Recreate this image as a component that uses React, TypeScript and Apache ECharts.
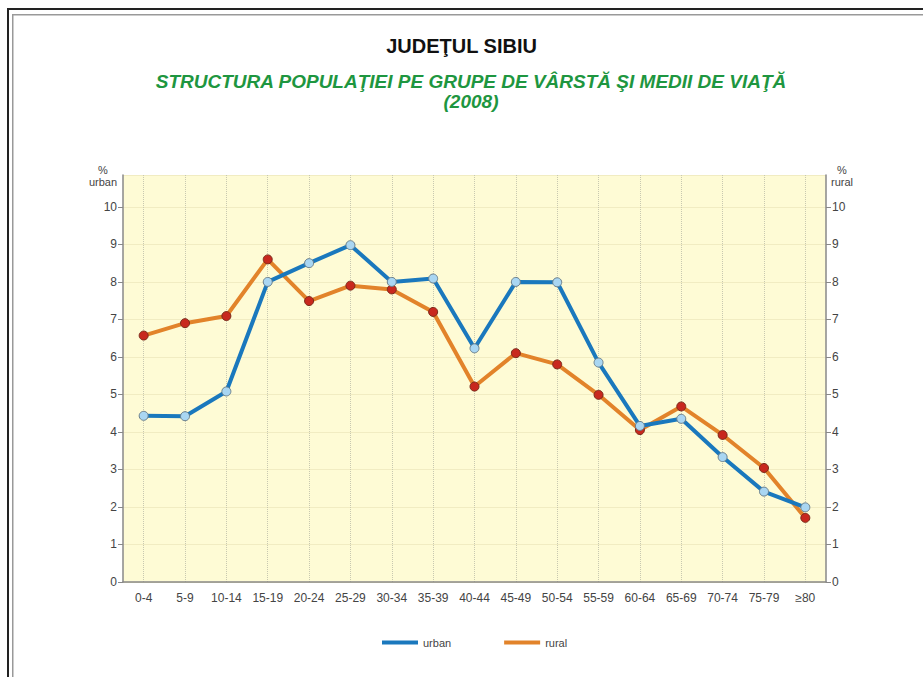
import React, { useEffect, useRef } from "react";
import * as echarts from "echarts";

const categories = ["0-4", "5-9", "10-14", "15-19", "20-24", "25-29", "30-34", "35-39", "40-44", "45-49", "50-54", "55-59", "60-64", "65-69", "70-74", "75-79", "≥80"];
const urban = [4.43, 4.42, 5.08, 8.0, 8.5, 8.98, 8.0, 8.09, 6.23, 8.0, 7.99, 5.85, 4.16, 4.35, 3.33, 2.41, 1.99];
const rural = [6.57, 6.9, 7.09, 8.6, 7.49, 7.9, 7.8, 7.2, 5.21, 6.1, 5.8, 4.99, 4.05, 4.68, 3.92, 3.04, 1.71];
const titleText = "JUDEŢUL SIBIU";
const subtitleText = "STRUCTURA POPULAŢIEI PE GRUPE DE VÂRSTĂ ŞI MEDII DE VIAŢĂ";
const yearText = "(2008)";

export default function App() {
  const ref = useRef<HTMLDivElement>(null);
  useEffect(() => {
    document.body.style.margin = "0";
    const chart = echarts.init(ref.current!, null, { renderer: "svg" });
    const font = "'Liberation Sans', Arial, sans-serif";
    const axisLabelStyle = { color: "#444", fontSize: 12, fontFamily: font };
    const green = "#1e9640";
    chart.setOption({
      animation: false,
      backgroundColor: "#ffffff",
      graphic: [
        { type: "rect", shape: { x: 7, y: 8, width: 930, height: 2 }, style: { fill: "#222" } },
        { type: "rect", shape: { x: 7, y: 8, width: 2, height: 700 }, style: { fill: "#222" } },
        { type: "rect", shape: { x: 12, y: 14, width: 930, height: 1.5 }, style: { fill: "#999" } },
        { type: "rect", shape: { x: 12, y: 14, width: 1.5, height: 700 }, style: { fill: "#999" } },
        { type: "text", x: 461.5, y: 46, style: { text: titleText, fill: "#111", font: `bold 20px ${font}`, align: "center", verticalAlign: "middle" } },
        { type: "text", x: 471, y: 81, style: { text: subtitleText, fill: green, font: `italic bold 19px ${font}`, align: "center", verticalAlign: "middle" } },
        { type: "text", x: 471, y: 101, style: { text: yearText, fill: green, font: `italic bold 19px ${font}`, align: "center", verticalAlign: "middle" } },
        { type: "text", x: 103, y: 164, style: { text: "%\nurban", fill: "#444", font: `11px ${font}`, align: "center", lineHeight: 12 } },
        { type: "text", x: 842, y: 164, style: { text: "%\nrural", fill: "#444", font: `11px ${font}`, align: "center", lineHeight: 12 } },
      ],
      legend: {
        bottom: 24,
        left: 377,
        itemGap: 53,
        itemWidth: 36,
        itemHeight: 4,
        icon: "rect",
        textStyle: { color: "#444", fontSize: 11, fontFamily: font },
        data: [
          { name: "urban", itemStyle: { color: "#1a78bd", borderWidth: 0 } },
          { name: "rural", itemStyle: { color: "#e2832a", borderWidth: 0 } },
        ],
      },
      grid: { left: 123, right: 97, top: 175, bottom: 95, show: true, backgroundColor: "#fefbd5", borderWidth: 0 },
      xAxis: {
        type: "category",
        data: categories,
        boundaryGap: true,
        axisLine: { lineStyle: { color: "#888", width: 1.5 } },
        axisTick: { alignWithLabel: true, length: 5, lineStyle: { color: "#888" } },
        axisLabel: { ...axisLabelStyle, margin: 10 },
        splitLine: { show: true, alignWithLabel: true, lineStyle: { color: "#c8c8b0", type: "dotted", width: 1 } },
      },
      yAxis: [
        {
          type: "value", min: 0, max: 10.85, interval: 1, position: "left",
          axisLine: { show: true, lineStyle: { color: "#888", width: 1.5 } },
          axisTick: { show: true, length: 5, lineStyle: { color: "#888" } },
          axisLabel: { ...axisLabelStyle, showMaxLabel: false, margin: 6 },
          splitLine: { show: true, lineStyle: { color: "#f1ecc2", width: 1 } },
        },
        {
          type: "value", min: 0, max: 10.85, interval: 1, position: "right",
          axisLine: { show: true, lineStyle: { color: "#888", width: 1.5 } },
          axisTick: { show: true, length: 5, lineStyle: { color: "#888" } },
          axisLabel: { ...axisLabelStyle, showMaxLabel: false, margin: 6 },
          splitLine: { show: false },
        },
      ],
      series: [
        {
          name: "urban", type: "line", data: urban, yAxisIndex: 0,
          symbol: "circle", symbolSize: 9,
          lineStyle: { color: "#1a78bd", width: 4 },
          itemStyle: { color: "#a9d6f2", borderColor: "#6a7f8c", borderWidth: 1 },
          z: 3,
        },
        {
          name: "rural", type: "line", data: rural, yAxisIndex: 1,
          symbol: "circle", symbolSize: 9,
          lineStyle: { color: "#e2832a", width: 4 },
          itemStyle: { color: "#c8281e", borderColor: "#7a2a1a", borderWidth: 1 },
          z: 2,
        },
      ],
    });
    return () => chart.dispose();
  }, []);
  return <div ref={ref} style={{ width: 923, height: 677 }} />;
}
